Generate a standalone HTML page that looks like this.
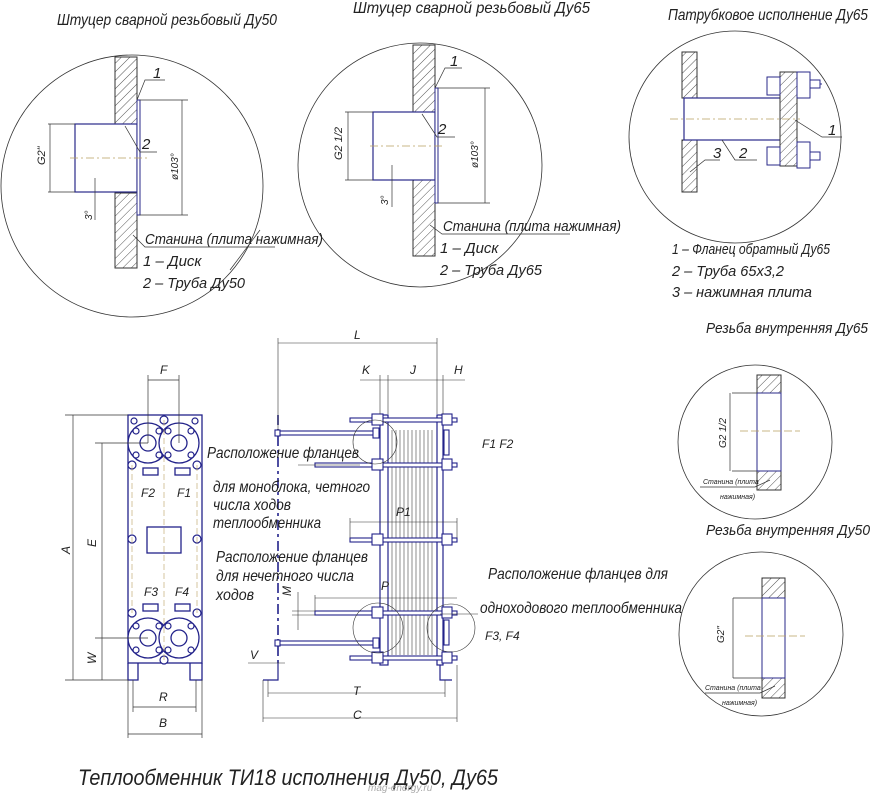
<!DOCTYPE html>
<html><head><meta charset="utf-8"><style>
html,body{margin:0;padding:0;background:#fff}
svg{display:block}
text{font-family:"Liberation Sans",sans-serif;font-style:italic;fill:#222}
</style></head><body>
<svg width="878" height="793" viewBox="0 0 878 793" xmlns="http://www.w3.org/2000/svg">
<defs>
<pattern id="h" width="6" height="6" patternUnits="userSpaceOnUse" patternTransform="rotate(45)">
<rect width="6" height="6" fill="#fff"/><line x1="0" y1="0" x2="0" y2="6" stroke="#555" stroke-width="1"/></pattern>
</defs>
<g fill="none" stroke="#333" stroke-width="0.8">
<circle cx="132" cy="186" r="131"/>
<circle cx="420" cy="165" r="122"/>
<circle cx="735" cy="137" r="106"/>
<circle cx="755" cy="442" r="77"/>
<circle cx="761" cy="634" r="82"/>
</g>

<!-- Circle 1 -->
<rect x="115" y="57" width="22" height="68" fill="url(#h)" stroke="#333"/>
<rect x="115" y="193" width="22" height="75" fill="url(#h)" stroke="#333"/>
<rect x="75" y="124" width="62" height="68" fill="#fff" stroke="#2a2a8a" stroke-width="1.2"/>
<rect x="137" y="100" width="3" height="115" fill="#fff" stroke="#2a2a8a"/>
<g stroke="#333" stroke-width="0.7" fill="none">
<line x1="70" y1="158" x2="150" y2="158" stroke="#b9a060" stroke-dasharray="8,3,2,3"/>
<line x1="48" y1="124" x2="75" y2="124"/><line x1="48" y1="192" x2="75" y2="192"/><line x1="50" y1="124" x2="50" y2="192"/>
<line x1="140" y1="100" x2="188" y2="100"/><line x1="140" y1="215" x2="188" y2="215"/><line x1="182" y1="100" x2="182" y2="215"/>
<line x1="95" y1="178" x2="95" y2="220"/>
<polyline points="137,100 145,80 165,80"/><polyline points="125,126 140,152 157,152"/>
<polyline points="133,235 145,247 275,247"/><line x1="230" y1="270" x2="260" y2="230"/>
</g>
<text x="57" y="25" font-size="16" textLength="220" lengthAdjust="spacingAndGlyphs">Штуцер сварной резьбовый Ду50</text>
<text x="153" y="78" font-size="15">1</text><text x="142" y="149" font-size="15">2</text>
<text font-size="11" transform="translate(45,165) rotate(-90)">G2"</text>
<text font-size="10" transform="translate(178,180) rotate(-90)">ø103°</text>
<text font-size="10" transform="translate(92,220) rotate(-90)">3°</text>
<text x="145" y="244" font-size="15" textLength="178" lengthAdjust="spacingAndGlyphs">Станина (плита нажимная)</text>
<text x="143" y="266" font-size="15">1 – Диск</text>
<text x="143" y="288" font-size="15" textLength="102" lengthAdjust="spacingAndGlyphs">2 – Труба Ду50</text>

<!-- Circle 2 -->
<rect x="413" y="45" width="22" height="67" fill="url(#h)" stroke="#333"/>
<rect x="413" y="180" width="22" height="76" fill="url(#h)" stroke="#333"/>
<rect x="373" y="112" width="62" height="68" fill="#fff" stroke="#2a2a8a" stroke-width="1.2"/>
<rect x="435" y="88" width="3" height="115" fill="#fff" stroke="#2a2a8a"/>
<g stroke="#333" stroke-width="0.7" fill="none">
<line x1="370" y1="146" x2="445" y2="146" stroke="#b9a060" stroke-dasharray="8,3,2,3"/>
<line x1="345" y1="112" x2="373" y2="112"/><line x1="345" y1="180" x2="373" y2="180"/><line x1="348" y1="112" x2="348" y2="180"/>
<line x1="438" y1="88" x2="490" y2="88"/><line x1="438" y1="203" x2="490" y2="203"/><line x1="485" y1="88" x2="485" y2="203"/>
<line x1="392" y1="165" x2="392" y2="207"/>
<polyline points="435,88 445,68 462,68"/><polyline points="422,114 437,137 455,137"/>
<polyline points="430,225 442,234 570,234"/>
</g>
<text x="353" y="13" font-size="16" textLength="237" lengthAdjust="spacingAndGlyphs">Штуцер сварной резьбовый Ду65</text>
<text x="450" y="66" font-size="15">1</text><text x="438" y="134" font-size="15">2</text>
<text font-size="11" transform="translate(342,160) rotate(-90)">G2 1/2</text>
<text font-size="10" transform="translate(478,168) rotate(-90)">ø103°</text>
<text font-size="10" transform="translate(388,205) rotate(-90)">3°</text>
<text x="443" y="231" font-size="15" textLength="178" lengthAdjust="spacingAndGlyphs">Станина (плита нажимная)</text>
<text x="440" y="253" font-size="15">1 – Диск</text>
<text x="440" y="275" font-size="15" textLength="102" lengthAdjust="spacingAndGlyphs">2 – Труба Ду65</text>

<!-- Circle 3 -->
<rect x="682" y="52" width="15" height="46" fill="url(#h)" stroke="#333"/>
<rect x="682" y="140" width="15" height="52" fill="url(#h)" stroke="#333"/>
<rect x="684" y="98" width="100" height="42" fill="#fff" stroke="#2a2a8a" stroke-width="1.2"/>
<rect x="780" y="72" width="17" height="94" fill="url(#h)" stroke="#333"/>
<g stroke="#2a2a8a" fill="#fff" stroke-width="1">
<rect x="767" y="77" width="13" height="18"/><rect x="797" y="72" width="13" height="26"/><line x1="810" y1="84" x2="822" y2="84"/><rect x="810" y="80" width="10" height="8"/>
<rect x="767" y="147" width="13" height="18"/><rect x="797" y="142" width="13" height="26"/><rect x="810" y="152" width="10" height="8"/>
</g>
<g stroke="#333" stroke-width="0.7" fill="none">
<line x1="670" y1="119" x2="800" y2="119" stroke="#b9a060" stroke-dasharray="8,3,2,3"/>
<polyline points="795,120 822,137 842,137"/><polyline points="722,140 735,160 757,160"/><polyline points="690,172 705,160 720,160"/>
</g>
<text x="668" y="20" font-size="16" textLength="200" lengthAdjust="spacingAndGlyphs">Патрубковое исполнение Ду65</text>
<text x="828" y="135" font-size="15">1</text><text x="713" y="158" font-size="15">3</text><text x="739" y="158" font-size="15">2</text>
<text x="672" y="254" font-size="15" textLength="158" lengthAdjust="spacingAndGlyphs">1 – Фланец обратный Ду65</text>
<text x="672" y="276" font-size="15" textLength="112" lengthAdjust="spacingAndGlyphs">2 – Труба 65x3,2</text>
<text x="672" y="297" font-size="15" textLength="140" lengthAdjust="spacingAndGlyphs">3  – нажимная плита</text>

<!-- Circle 4 -->
<text x="706" y="333" font-size="15" textLength="162" lengthAdjust="spacingAndGlyphs">Резьба внутренняя Ду65</text>
<rect x="757" y="375" width="24" height="18" fill="url(#h)" stroke="#333"/>
<rect x="757" y="471" width="24" height="19" fill="url(#h)" stroke="#333"/>
<rect x="757" y="393" width="24" height="78" fill="#fff" stroke="#2a2a8a"/>
<g stroke="#333" stroke-width="0.7" fill="none">
<line x1="732" y1="393" x2="757" y2="393"/><line x1="732" y1="471" x2="757" y2="471"/><line x1="730" y1="393" x2="730" y2="471"/>
<line x1="740" y1="431" x2="800" y2="431" stroke="#b9a060" stroke-dasharray="8,3"/>
<polyline points="770,480 755,487 700,487"/>
</g>
<text font-size="10" transform="translate(726,448) rotate(-90)">G2 1/2</text>
<text x="703" y="484" font-size="7">Станина (плита</text><text x="720" y="499" font-size="7">нажимная)</text>

<!-- Circle 5 -->
<text x="706" y="535" font-size="15" textLength="164" lengthAdjust="spacingAndGlyphs">Резьба внутренняя Ду50</text>
<rect x="762" y="578" width="23" height="20" fill="url(#h)" stroke="#333"/>
<rect x="762" y="678" width="23" height="20" fill="url(#h)" stroke="#333"/>
<rect x="762" y="598" width="23" height="80" fill="#fff" stroke="#2a2a8a"/>
<g stroke="#333" stroke-width="0.7" fill="none">
<line x1="733" y1="598" x2="762" y2="598"/><line x1="733" y1="678" x2="762" y2="678"/><line x1="733" y1="598" x2="733" y2="678"/>
<line x1="745" y1="636" x2="805" y2="636" stroke="#b9a060" stroke-dasharray="8,3"/>
<polyline points="775,686 760,693 705,693"/>
</g>
<text font-size="10" transform="translate(724,643) rotate(-90)">G2"</text>
<text x="705" y="690" font-size="7">Станина (плита</text><text x="722" y="705" font-size="7">нажимная)</text>

<!-- Front view -->
<g stroke="#22228a" stroke-width="1.3" fill="#fff">
<rect x="128" y="415" width="74" height="248"/>
<path d="M128 663 V680 H138 V663 M190 663 V680 H202 V663" fill="none"/>
<circle cx="148" cy="443" r="20"/><circle cx="179" cy="443" r="20"/>
<circle cx="148" cy="638" r="20"/><circle cx="179" cy="638" r="20"/>
<circle cx="148" cy="443" r="8"/><circle cx="179" cy="443" r="8"/>
<circle cx="148" cy="638" r="8"/><circle cx="179" cy="638" r="8"/>
<rect x="143" y="468" width="15" height="7"/><rect x="175" y="468" width="15" height="7"/>
<rect x="143" y="604" width="15" height="7"/><rect x="175" y="604" width="15" height="7"/>
<rect x="147" y="527" width="34" height="26"/>
</g>
<g stroke="#22228a" stroke-width="1.2" fill="#fff">
<circle cx="132" cy="465" r="4"/><circle cx="197" cy="465" r="4"/><circle cx="132" cy="539" r="4"/><circle cx="197" cy="539" r="4"/>
<circle cx="132" cy="613" r="4"/><circle cx="197" cy="613" r="4"/><circle cx="164" cy="420" r="4"/><circle cx="164" cy="660" r="4"/>
<circle cx="134" cy="421" r="3"/><circle cx="195" cy="421" r="3"/>
<circle cx="136" cy="431" r="3"/><circle cx="159" cy="431" r="3"/><circle cx="168" cy="431" r="3"/><circle cx="191" cy="431" r="3"/>
<circle cx="136" cy="455" r="3"/><circle cx="159" cy="455" r="3"/><circle cx="168" cy="455" r="3"/><circle cx="191" cy="455" r="3"/>
<circle cx="136" cy="626" r="3"/><circle cx="159" cy="626" r="3"/><circle cx="168" cy="626" r="3"/><circle cx="191" cy="626" r="3"/>
<circle cx="136" cy="650" r="3"/><circle cx="159" cy="650" r="3"/><circle cx="168" cy="650" r="3"/><circle cx="191" cy="650" r="3"/>
</g>
<g stroke="#b9a060" stroke-width="0.6" stroke-dasharray="6,3" fill="none">
<line x1="164" y1="420" x2="164" y2="660"/><line x1="132" y1="465" x2="132" y2="613"/><line x1="197" y1="465" x2="197" y2="613"/>
</g>
<g font-size="12"><text x="141" y="497">F2</text><text x="177" y="497">F1</text><text x="144" y="596">F3</text><text x="175" y="596">F4</text></g>
<g stroke="#333" stroke-width="0.7" fill="none">
<line x1="148" y1="375" x2="148" y2="443"/><line x1="179" y1="375" x2="179" y2="443"/><line x1="148" y1="380" x2="179" y2="380"/>
<line x1="65" y1="415" x2="128" y2="415"/><line x1="65" y1="680" x2="128" y2="680"/><line x1="73" y1="415" x2="73" y2="680"/>
<line x1="95" y1="443" x2="148" y2="443"/><line x1="95" y1="638" x2="148" y2="638"/><line x1="102" y1="443" x2="102" y2="680"/>
<line x1="133" y1="680" x2="133" y2="712"/><line x1="196" y1="680" x2="196" y2="712"/><line x1="133" y1="707" x2="196" y2="707"/>
<line x1="128" y1="680" x2="128" y2="738"/><line x1="202" y1="680" x2="202" y2="738"/><line x1="128" y1="734" x2="202" y2="734"/>
</g>
<g font-size="12"><text x="160" y="374">F</text><text x="60" y="552" transform="rotate(-90 66 548)">A</text>
<text x="86" y="545" transform="rotate(-90 92 541)">E</text><text x="86" y="662" transform="rotate(-90 92 658)">W</text>
<text x="159" y="701">R</text><text x="159" y="727">B</text></g>

<!-- Side view -->
<line x1="278" y1="415" x2="278" y2="665" stroke="#22228a" stroke-width="1.6" stroke-dasharray="10,4,3,4"/>
<g stroke="#22228a" stroke-width="1.2" fill="#fff">
<path d="M278 663 V680 H263" fill="none"/><path d="M440 663 V680 H452" fill="none"/>
<rect x="380" y="415" width="8" height="250"/><rect x="437" y="415" width="6" height="250"/>
</g>
<g stroke="#444" stroke-width="0.6">
<line x1="392" y1="430" x2="392" y2="655"/><line x1="396" y1="430" x2="396" y2="655"/><line x1="400" y1="430" x2="400" y2="655"/>
<line x1="404" y1="430" x2="404" y2="655"/><line x1="408" y1="430" x2="408" y2="655"/><line x1="412" y1="430" x2="412" y2="655"/>
<line x1="416" y1="430" x2="416" y2="655"/><line x1="420" y1="430" x2="420" y2="655"/><line x1="424" y1="430" x2="424" y2="655"/>
<line x1="428" y1="430" x2="428" y2="655"/><line x1="432" y1="430" x2="432" y2="655"/>
</g>
<g stroke="#22228a" stroke-width="1.1" fill="#fff">
<rect x="350" y="418" width="107" height="4"/><rect x="278" y="431" width="100" height="4"/>
<rect x="315" y="463" width="142" height="4"/><rect x="350" y="538" width="107" height="4"/>
<rect x="315" y="611" width="142" height="4"/><rect x="278" y="641" width="100" height="4"/><rect x="350" y="656" width="107" height="4"/>
<rect x="372" y="414" width="11" height="11"/><rect x="442" y="414" width="10" height="11"/>
<rect x="372" y="459" width="11" height="11"/><rect x="442" y="459" width="10" height="11"/>
<rect x="372" y="534" width="11" height="11"/><rect x="442" y="534" width="10" height="11"/>
<rect x="372" y="607" width="11" height="11"/><rect x="442" y="607" width="10" height="11"/>
<rect x="372" y="652" width="11" height="11"/><rect x="442" y="652" width="10" height="11"/>
<rect x="373" y="428" width="6" height="10"/><rect x="373" y="638" width="6" height="10"/>
<rect x="275" y="430" width="5" height="6"/><rect x="275" y="640" width="5" height="6"/>
<rect x="444" y="430" width="5" height="25"/><rect x="444" y="620" width="5" height="25"/>
</g>
<g stroke="#333" stroke-width="0.6" fill="none">
<circle cx="375" cy="442" r="22"/><circle cx="378" cy="628" r="25"/><circle cx="451" cy="628" r="24"/>
<line x1="278" y1="338" x2="278" y2="430"/><line x1="437" y1="338" x2="437" y2="414"/><line x1="278" y1="343" x2="437" y2="343"/>
<line x1="380" y1="375" x2="380" y2="414"/><line x1="388" y1="375" x2="388" y2="414"/><line x1="443" y1="375" x2="443" y2="414"/>
<line x1="360" y1="380" x2="465" y2="380"/>
<line x1="350" y1="518" x2="350" y2="538"/><line x1="457" y1="518" x2="457" y2="538"/><line x1="350" y1="522" x2="457" y2="522"/>
<line x1="315" y1="595" x2="315" y2="611"/><line x1="315" y1="598" x2="457" y2="598"/>
<line x1="298" y1="592" x2="298" y2="630"/><line x1="292" y1="611" x2="315" y2="611"/><line x1="292" y1="615" x2="315" y2="615"/>
<line x1="248" y1="663" x2="285" y2="663"/>
<line x1="268" y1="680" x2="268" y2="697"/><line x1="445" y1="680" x2="445" y2="697"/><line x1="268" y1="693" x2="445" y2="693"/>
<line x1="263" y1="680" x2="263" y2="722"/><line x1="457" y1="665" x2="457" y2="722"/><line x1="263" y1="718" x2="457" y2="718"/>
<line x1="298" y1="465" x2="360" y2="465"/><line x1="440" y1="614" x2="478" y2="614"/>
</g>
<g font-size="12"><text x="354" y="339">L</text><text x="362" y="374">K</text><text x="410" y="374">J</text><text x="454" y="374">H</text>
<text x="396" y="516">P1</text><text x="381" y="590">P</text><text x="292" y="603" transform="rotate(-90 288 600)">M</text>
<text x="250" y="659">V</text><text x="353" y="695">T</text><text x="353" y="719">C</text>
<text x="482" y="448">F1 F2</text><text x="485" y="640">F3, F4</text></g>

<g font-size="16">
<text x="207" y="458" textLength="152" lengthAdjust="spacingAndGlyphs">Расположение фланцев</text>
<text x="213" y="492" textLength="157" lengthAdjust="spacingAndGlyphs">для моноблока, четного</text>
<text x="213" y="510" textLength="78" lengthAdjust="spacingAndGlyphs">числа ходов</text>
<text x="213" y="528" textLength="108" lengthAdjust="spacingAndGlyphs">теплообменника</text>
<text x="216" y="562" textLength="152" lengthAdjust="spacingAndGlyphs">Расположение фланцев</text>
<text x="216" y="581" textLength="138" lengthAdjust="spacingAndGlyphs">для нечетного числа</text>
<text x="216" y="600" textLength="38" lengthAdjust="spacingAndGlyphs">ходов</text>
<text x="488" y="579" textLength="180" lengthAdjust="spacingAndGlyphs">Расположение фланцев для</text>
<text x="480" y="613" textLength="202" lengthAdjust="spacingAndGlyphs">одноходового теплообменника</text>
</g>
<text x="78" y="785" font-size="22" textLength="420" lengthAdjust="spacingAndGlyphs">Теплообменник ТИ18 исполнения Ду50, Ду65</text>
<text x="368" y="791" font-size="10" fill="#999" style="fill:#aaa">mag-energy.ru</text>
</svg>
</body></html>
